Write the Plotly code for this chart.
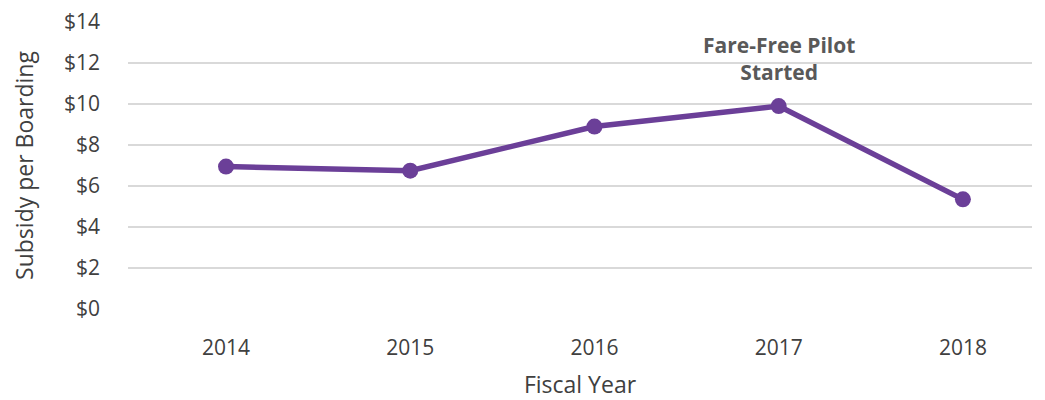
import plotly.graph_objects as go

years = [2014, 2015, 2016, 2017, 2018]
subsidy = [6.95, 6.75, 8.9, 9.9, 5.35]
y_ticks = [0, 2, 4, 6, 8, 10, 12, 14]
y_labels = ["$" + str(v) for v in y_ticks]
annotation_text = "Fare-Free Pilot<br>Started"

fig = go.Figure()
fig.add_trace(go.Scatter(
    x=years, y=subsidy, mode="lines+markers",
    line=dict(color="#6B3F98", width=5.5),
    marker=dict(color="#6B3F98", size=16),
    showlegend=False,
))
fig.add_annotation(
    x=2017, y=12.22, text=annotation_text, showarrow=False,
    font=dict(family="Open Sans", size=21, color="#595959", weight="bold"),
)
fig.update_layout(
    width=1037, height=392,
    margin=dict(l=120, r=13, t=14, b=91, autoexpand=False),
    plot_bgcolor="white", paper_bgcolor="white",
    font=dict(family="Open Sans", color="#595959"),
    xaxis=dict(
        range=[2013.468, 2018.375], tickvals=years, ticktext=[str(y) for y in years],
        showgrid=False, zeroline=False, showline=False, automargin=False,
        tickfont=dict(size=21, color="#404040"),
        title=dict(text="Fiscal Year", font=dict(size=23, color="#404040"), standoff=18),
        ticks="", ticklen=0, ticklabelstandoff=24,
    ),
    yaxis=dict(
        range=[0, 14.001], tickvals=y_ticks, ticktext=y_labels,
        showgrid=True, gridcolor="#d9d9d9", gridwidth=2, zeroline=False, showline=False,
        automargin=False,
        tickfont=dict(size=21, color="#404040"),
        title=dict(text="Subsidy per Boarding", font=dict(size=23, color="#404040"), standoff=26),
        ticks="", ticklen=0, ticklabelstandoff=27, ticklabeloverflow="allow",
    ),
)
fig.write_html("out.html")
